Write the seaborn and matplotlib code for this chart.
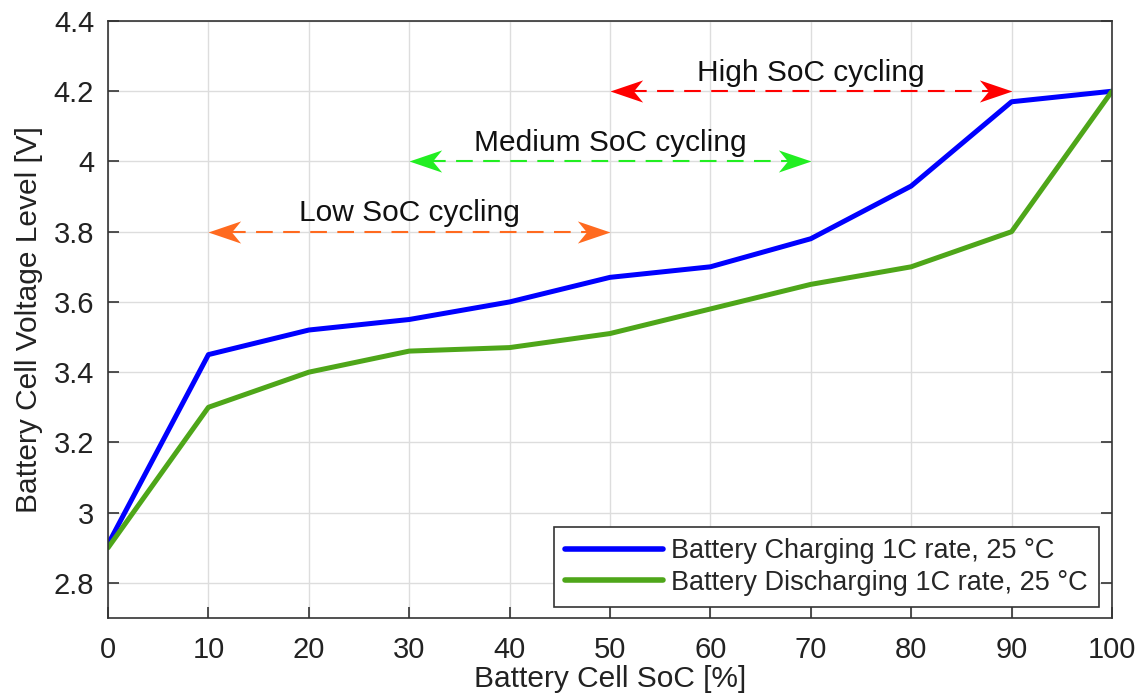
import numpy as np
import pandas as pd
import matplotlib
matplotlib.use("Agg")
import matplotlib.pyplot as plt
from matplotlib.path import Path
import seaborn as sns

# State of charge grid and measured cell voltages
soc = [0, 10, 20, 30, 40, 50, 60, 70, 80, 90, 100]
v_charge = [2.91, 3.45, 3.52, 3.55, 3.60, 3.67, 3.70, 3.78, 3.93, 4.17, 4.20]
v_discharge = [2.90, 3.30, 3.40, 3.46, 3.47, 3.51, 3.58, 3.65, 3.70, 3.80, 4.20]

series_names = ["Battery Charging 1C rate, 25 °C", "Battery Discharging 1C rate, 25 °C"]

# Cycling windows: label, start SoC, end SoC, voltage level
window_labels = ["High SoC cycling", "Medium SoC cycling", "Low SoC cycling"]
window_start = [50, 30, 10]
window_end = [90, 70, 50]
window_level = [4.2, 4.0, 3.8]

x_ticks = [0, 10, 20, 30, 40, 50, 60, 70, 80, 90, 100]
y_ticks = [2.8, 3.0, 3.2, 3.4, 3.6, 3.8, 4.0, 4.2, 4.4]
y_tick_labels = ["2.8", "3", "3.2", "3.4", "3.6", "3.8", "4", "4.2", "4.4"]

sns.set_theme(style="whitegrid")
plt.rcParams["font.family"] = ["Liberation Sans", "DejaVu Sans"]

df = pd.DataFrame({
    "soc": soc * 2,
    "voltage": v_charge + v_discharge,
    "series": [series_names[0]] * len(soc) + [series_names[1]] * len(soc),
})

fig = plt.figure(figsize=(11.42, 6.95), dpi=100)
ax = fig.add_axes([0.0946, 0.1108, 0.8791, 0.8590])

line_colors = ["#0000ff", "#4ea619"]
sns.lineplot(data=df, x="soc", y="voltage", hue="series", palette=line_colors,
             linewidth=3.6, ax=ax, legend=True)

# Arrowhead with a swept-back tail, tip at the origin
tip = Path([(0, 0), (-1.0, 0.34), (-0.72, 0), (-1.0, -0.34), (0, 0)],
           [Path.MOVETO, Path.LINETO, Path.LINETO, Path.LINETO, Path.CLOSEPOLY])
tip_left = Path(tip.vertices * np.array([-1, 1]), tip.codes)

arrow_colors = ["#ff0000", "#22ee22", "#ff6a1f"]
for lab, x0, x1, lvl, col in zip(window_labels, window_start, window_end, window_level, arrow_colors):
    ax.plot([x0 + 2, x1 - 2], [lvl, lvl], color=col, lw=1.5, dashes=(8, 5), zorder=3)
    ax.plot([x1], [lvl], marker=tip, markersize=47, color=col, markeredgewidth=0, zorder=4)
    ax.plot([x0], [lvl], marker=tip_left, markersize=47, color=col, markeredgewidth=0, zorder=4)
    ax.text((x0 + x1) / 2, lvl + 0.052, lab, ha="center", va="center",
            fontsize=21.5, color="#111111")

ax.set_xlim(0, 100)
ax.set_ylim(2.7, 4.4)
ax.set_xticks(x_ticks)
ax.set_yticks(y_ticks)
ax.set_yticklabels(y_tick_labels)
ax.tick_params(axis="both", direction="in", length=8, width=1.2, color="#333333",
               labelsize=21, labelcolor="#222222", top=False, right=True,
               left=True, bottom=True, pad=10)
ax.tick_params(axis="x", pad=13)
ax.grid(True, color="#dddddd", linewidth=1.0)
for sp in ax.spines.values():
    sp.set_color("#333333")
    sp.set_linewidth(1.2)
    sp.set_visible(True)

ax.set_xlabel("Battery Cell SoC [%]", fontsize=21.5, color="#222222", labelpad=1)
ax.set_ylabel("Battery Cell Voltage Level [V]", fontsize=21.5, color="#222222", labelpad=8)

leg = ax.legend(loc="lower right", fontsize=19.5, frameon=True, fancybox=False,
                edgecolor="#333333", framealpha=1, borderpad=0.42, handlelength=3.6,
                handletextpad=0.3, labelspacing=0.2, borderaxespad=0,
                bbox_to_anchor=(0.987, 0.018))
leg.get_frame().set_linewidth(1.2)
for h in leg.get_lines():
    h.set_linewidth(4)

fig.savefig("out.png", dpi=100, facecolor="white")
